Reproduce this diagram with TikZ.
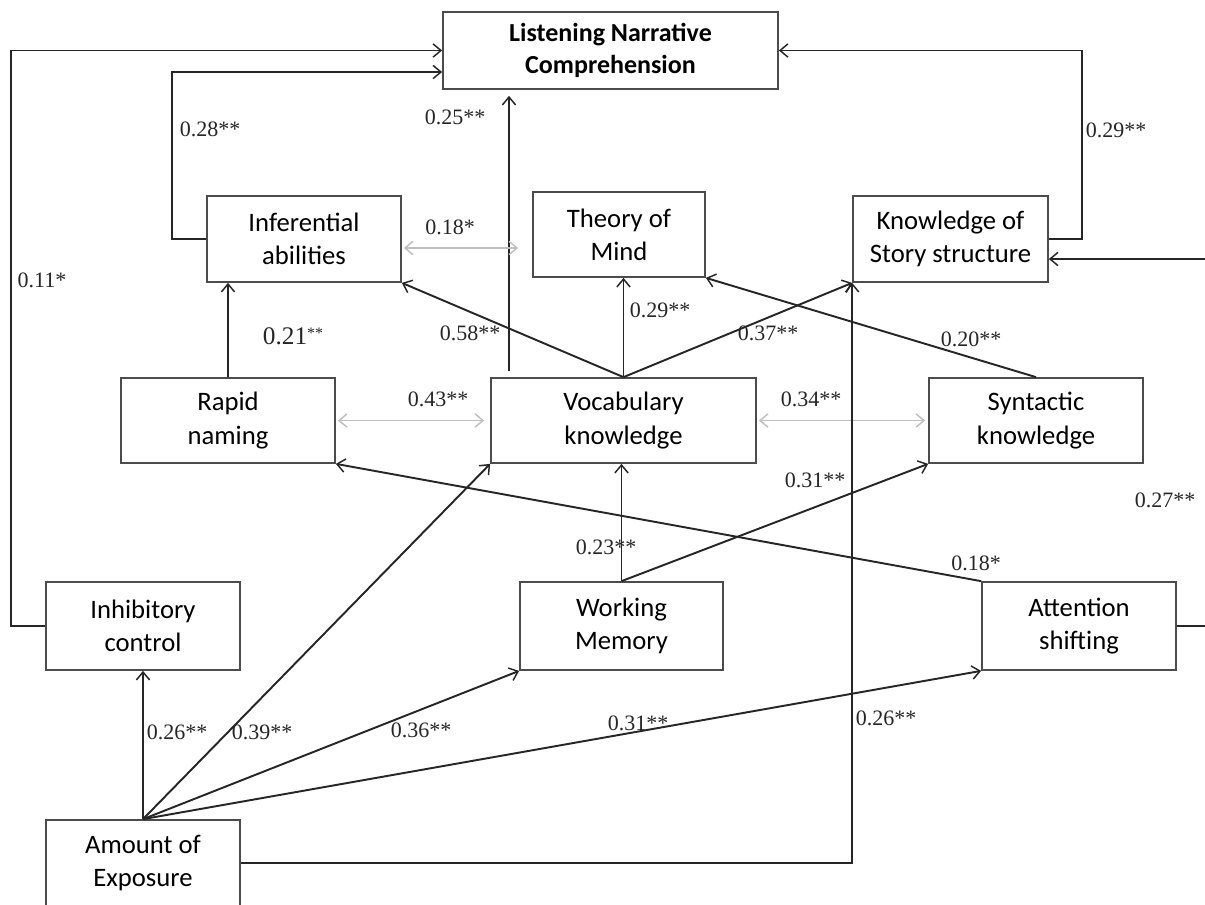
\documentclass[tikz,border=0pt]{standalone}
\usepackage{fontspec}
\setmainfont{Carlito}
\newfontfamily\labfont{Liberation Serif}
\usetikzlibrary{arrows.meta,calc}
\begin{document}
\begin{tikzpicture}[x=0.75pt,y=-0.75pt,
  box/.style={draw=black!70, line width=1.3pt, inner sep=0pt, align=center, font=\fontsize{20}{25}\selectfont},
  sz/.style 2 args={minimum width=#1*0.75pt, minimum height=#2*0.75pt},
  tip/.tip={Straight Barb[length=6pt,width=10pt,line width=1.1pt]},
  arr/.style={draw=black!85, line width=1.45pt, -tip},
  garr/.style={draw=black!25, line width=1.4pt, tip-tip},
  lab/.style={font=\labfont\fontsize{16.5}{16.5}\selectfont, text=black!85, inner sep=0pt}
]
\useasboundingbox (0,0) rectangle (1205,904);
\clip (0,0) rectangle (1205,904);

% boxes
\node[box, sz={335}{77}, font=\fontsize{19.5}{24.5}\selectfont\bfseries] (listen) at (610.5,50.5) {Listening Narrative\\Comprehension};
\node[box, sz={194}{86}] (infer) at (304,239) {Inferential\\abilities};
\node[box, sz={172}{85}] (tom) at (619,234.5) {Theory of\\Mind};
\node[box, sz={195}{86}] (kss) at (950.5,239) {Knowledge of\\Story structure};
\node[box, sz={214}{85}] (rapid) at (228,420.5) {Rapid\\naming};
\node[box, sz={265}{85}] (vocab) at (623.5,420.5) {Vocabulary\\knowledge};
\node[box, sz={214}{85}] (synt) at (1036,420.5) {Syntactic\\knowledge};
\node[box, sz={194}{88}] (inhib) at (143,626) {Inhibitory\\control};
\node[box, sz={203}{88}] (wm) at (621.5,626) {Working\\Memory};
\node[box, sz={194}{88}] (attn) at (1079,626) {Attention\\shifting};
\node[box, sz={194}{86}] (expo) at (143,863) {Amount of\\Exposure};

% paths to Listening Narrative Comprehension
\draw[arr] (inhib.west) -- ++(-34,0) |- (listen.west);
\draw[arr] (infer.west) -- ++(-34,0) |- ($(listen.west)+(0,21.5)$);
\draw[arr] (kss.east) -- ++(33,0) |- (listen.east);
\coordinate (v0) at (509,371);
\draw[arr, shorten >=4.5pt] (v0) -- (v0 |- listen.south);

% right loop from attention shifting (runs off the picture)
\draw[arr] (attn.east) -- ++(60,0) |- ($(kss.east)+(0,20)$);

% to middle layer
\draw[arr] (rapid.north) -- (rapid.north |- infer.south);
\draw[arr] (vocab.north) -- (infer.south east);
\draw[arr] (vocab.north) -- (vocab.north |- tom.south);
\draw[arr] (vocab.north) -- (kss.south west);
\draw[arr] (synt.north) -- (tom.south east);

% correlations (gray)
\coordinate (g1) at ($(infer.east)+(0,9)$);
\draw[garr, shorten <=1.5pt, shorten >=10.5pt] (g1) -- (g1 -| tom.west);
\draw[garr, shorten <=1.5pt, shorten >=4.5pt] (rapid.east) -- (vocab.west);
\draw[garr, shorten <=1.5pt, shorten >=2.25pt] (vocab.east) -- (synt.west);

% from executive functions
\draw[arr] (wm.north) -- (wm.north |- vocab.south);
\draw[arr] (wm.north) -- (synt.south west);
\draw[arr] (attn.north west) -- (rapid.south east);

% from amount of exposure
\draw[arr] (expo.north) -- (inhib.south);
\draw[arr] (expo.north) -- (vocab.south west);
\draw[arr] (expo.north) -- (wm.south west);
\draw[arr] (expo.north) -- (attn.south west);
\draw[arr] (expo.east) -| (kss.south west);

% coefficients
\node[lab] (l1) at (42,280) {0.11*};
\node[lab] (l2) at (210,129) {0.28**};
\node[lab] (l3) at (455,117) {0.25**};
\node[lab] (l4) at (450,227) {0.18*};
\node[lab] (l5) at (1116,130) {0.29**};
\node[lab, font=\labfont] (l6) at (293,336) {{\fontsize{19}{19}\selectfont 0.21}{\fontsize{12}{12}\selectfont\raisebox{4pt}{**}}};
\node[lab] (l7) at (470,333) {0.58**};
\node[lab] (l8) at (660,310) {0.29**};
\node[lab] (l9) at (768,333) {0.37**};
\node[lab] (l10) at (971,339) {0.20**};
\node[lab] (l11) at (438,399) {0.43**};
\node[lab] (l12) at (811,399) {0.34**};
\node[lab] (l13) at (815,480) {0.31**};
\node[lab] (l14) at (1165,500) {0.27**};
\node[lab] (l15) at (606,547) {0.23**};
\node[lab] (l16) at (976,563) {0.18*};
\node[lab] (l17) at (177,732) {0.26**};
\node[lab] (l18) at (262,732) {0.39**};
\node[lab] (l19) at (421,730) {0.36**};
\node[lab] (l20) at (638,723) {0.31**};
\node[lab] (l21) at (886,718) {0.26**};
\end{tikzpicture}
\end{document}
